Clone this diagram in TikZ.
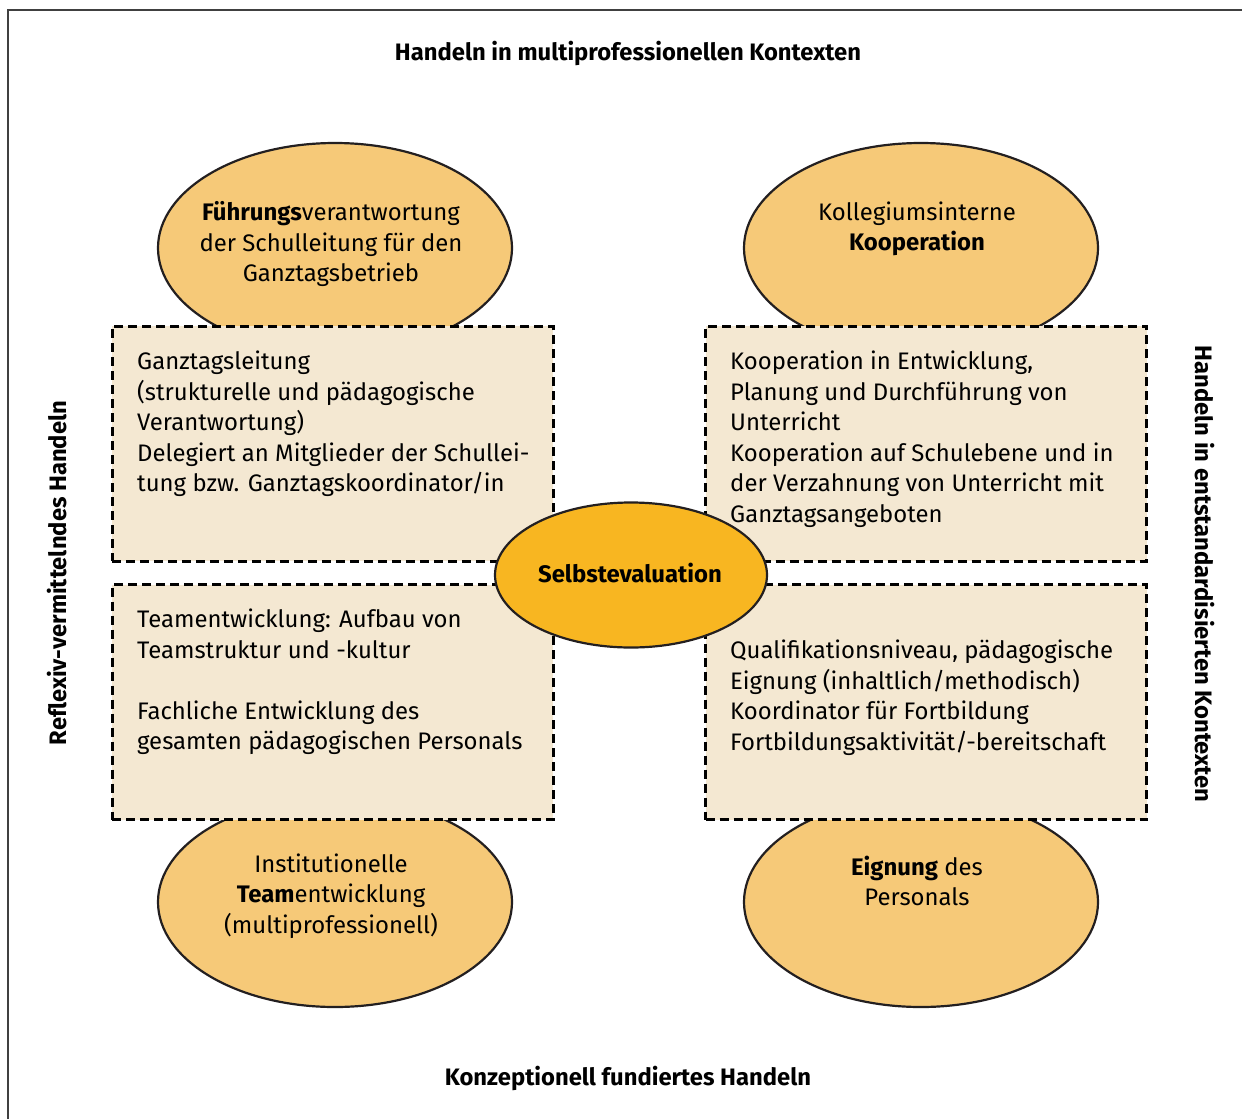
\documentclass[tikz,border=0pt]{standalone}
\usepackage{fontspec}
\setmainfont{Fira Sans}
\usetikzlibrary{shapes.geometric}
\definecolor{ellfill}{HTML}{F6C978}
\definecolor{midfill}{HTML}{F8B621}
\definecolor{boxfill}{HTML}{F4E8D2}
\definecolor{outline}{HTML}{231F20}
\begin{document}
\begin{tikzpicture}[x=1pt,y=-1pt,
  oval/.style={ellipse, draw=outline, line width=2.2pt, fill=ellfill, minimum width=354pt, minimum height=210pt, inner sep=0pt},
  dbox/.style={draw=black, dash pattern=on 9pt off 5pt, line width=3pt, fill=boxfill, minimum width=441pt, minimum height=235pt, inner sep=0pt},
  body/.style={inner sep=0pt, font=\fontsize{23.9}{30.5}\selectfont},
  btext/.style={body, anchor=north west, align=left},
  otext/.style={body, align=center},
  title/.style={font=\bfseries\fontsize{23.8}{28}\selectfont, inner sep=0pt}]
\useasboundingbox (0,0) rectangle (1242,1119);
\draw[line width=2pt, color=black!75] (8,1119) -- (8,10) -- (1242,10);

% titles
\node[title] (ttop) at (628,53) {Handeln in multiprofessionellen Kontexten};
\node[title] (tbot) at (628,1078) {Konzeptionell fundiertes Handeln};
\node[title, rotate=90] (tleft) at (57,573) {Reflexiv-vermittelndes Handeln};
\node[title, rotate=-90] (tright) at (1205,574) {Handeln in entstandardisierten Kontexten};

% outer ellipses
\node[oval] (etl) at (335,248) {};
\node[oval] (etr) at (921,248) {};
\node[oval] (ebl) at (335,902) {};
\node[oval] (ebr) at (921,902) {};
\node[otext] (etlt) at (331,244) {\textbf{Führungs}verantwortung\\der Schulleitung für den\\Ganztagsbetrieb};
\node[otext] (etrt) at (917,229) {Kollegiumsinterne\\\textbf{Kooperation}};
\node[otext] (eblt) at (331,896) {Institutionelle\\\textbf{Team}entwicklung\\(multiprofessionell)};
\node[otext] (ebrt) at (917,881) {\textbf{Eignung} des\\Personals};

% dashed boxes
\node[dbox] (btl) at (332.5,443.5) {};
\node[dbox] (bbl) at (332.5,702) {};
\node[dbox] (btr) at (926,443.5) {};
\node[dbox] (bbr) at (926,702) {};

\node[btext] (btlt) at (137,351) {Ganztagsleitung\\(strukturelle und pädagogische\\Verantwortung)\\Delegiert an Mitglieder der Schullei-\\tung bzw. Ganztagskoordinator/in};
\node[btext] (btrt) at (730,351) {Kooperation in Entwicklung,\\Planung und Durchführung von\\Unterricht\\Kooperation auf Schulebene und in\\der Verzahnung von Unterricht mit\\Ganztagsangeboten};
\node[btext] (bblt) at (137,609) {Teamentwicklung: Aufbau von\\Teamstruktur und -kultur\\[30.5pt]Fachliche Entwicklung des\\gesamten pädagogischen Personals};
\node[btext] (bbrt) at (730,640) {Qualifikationsniveau, pädagogische\\Eignung (inhaltlich/methodisch)\\Koordinator für Fortbildung\\Fortbildungsaktivität/-bereitschaft};

% centre
\node[ellipse, draw=outline, line width=2.2pt, fill=midfill, minimum width=272pt, minimum height=145pt, inner sep=0pt] (mid) at (631,575) {};
\node[font=\bfseries\fontsize{23.9}{28}\selectfont, inner sep=0pt] (midt) at (630,573) {Selbstevaluation};
\end{tikzpicture}
\end{document}
